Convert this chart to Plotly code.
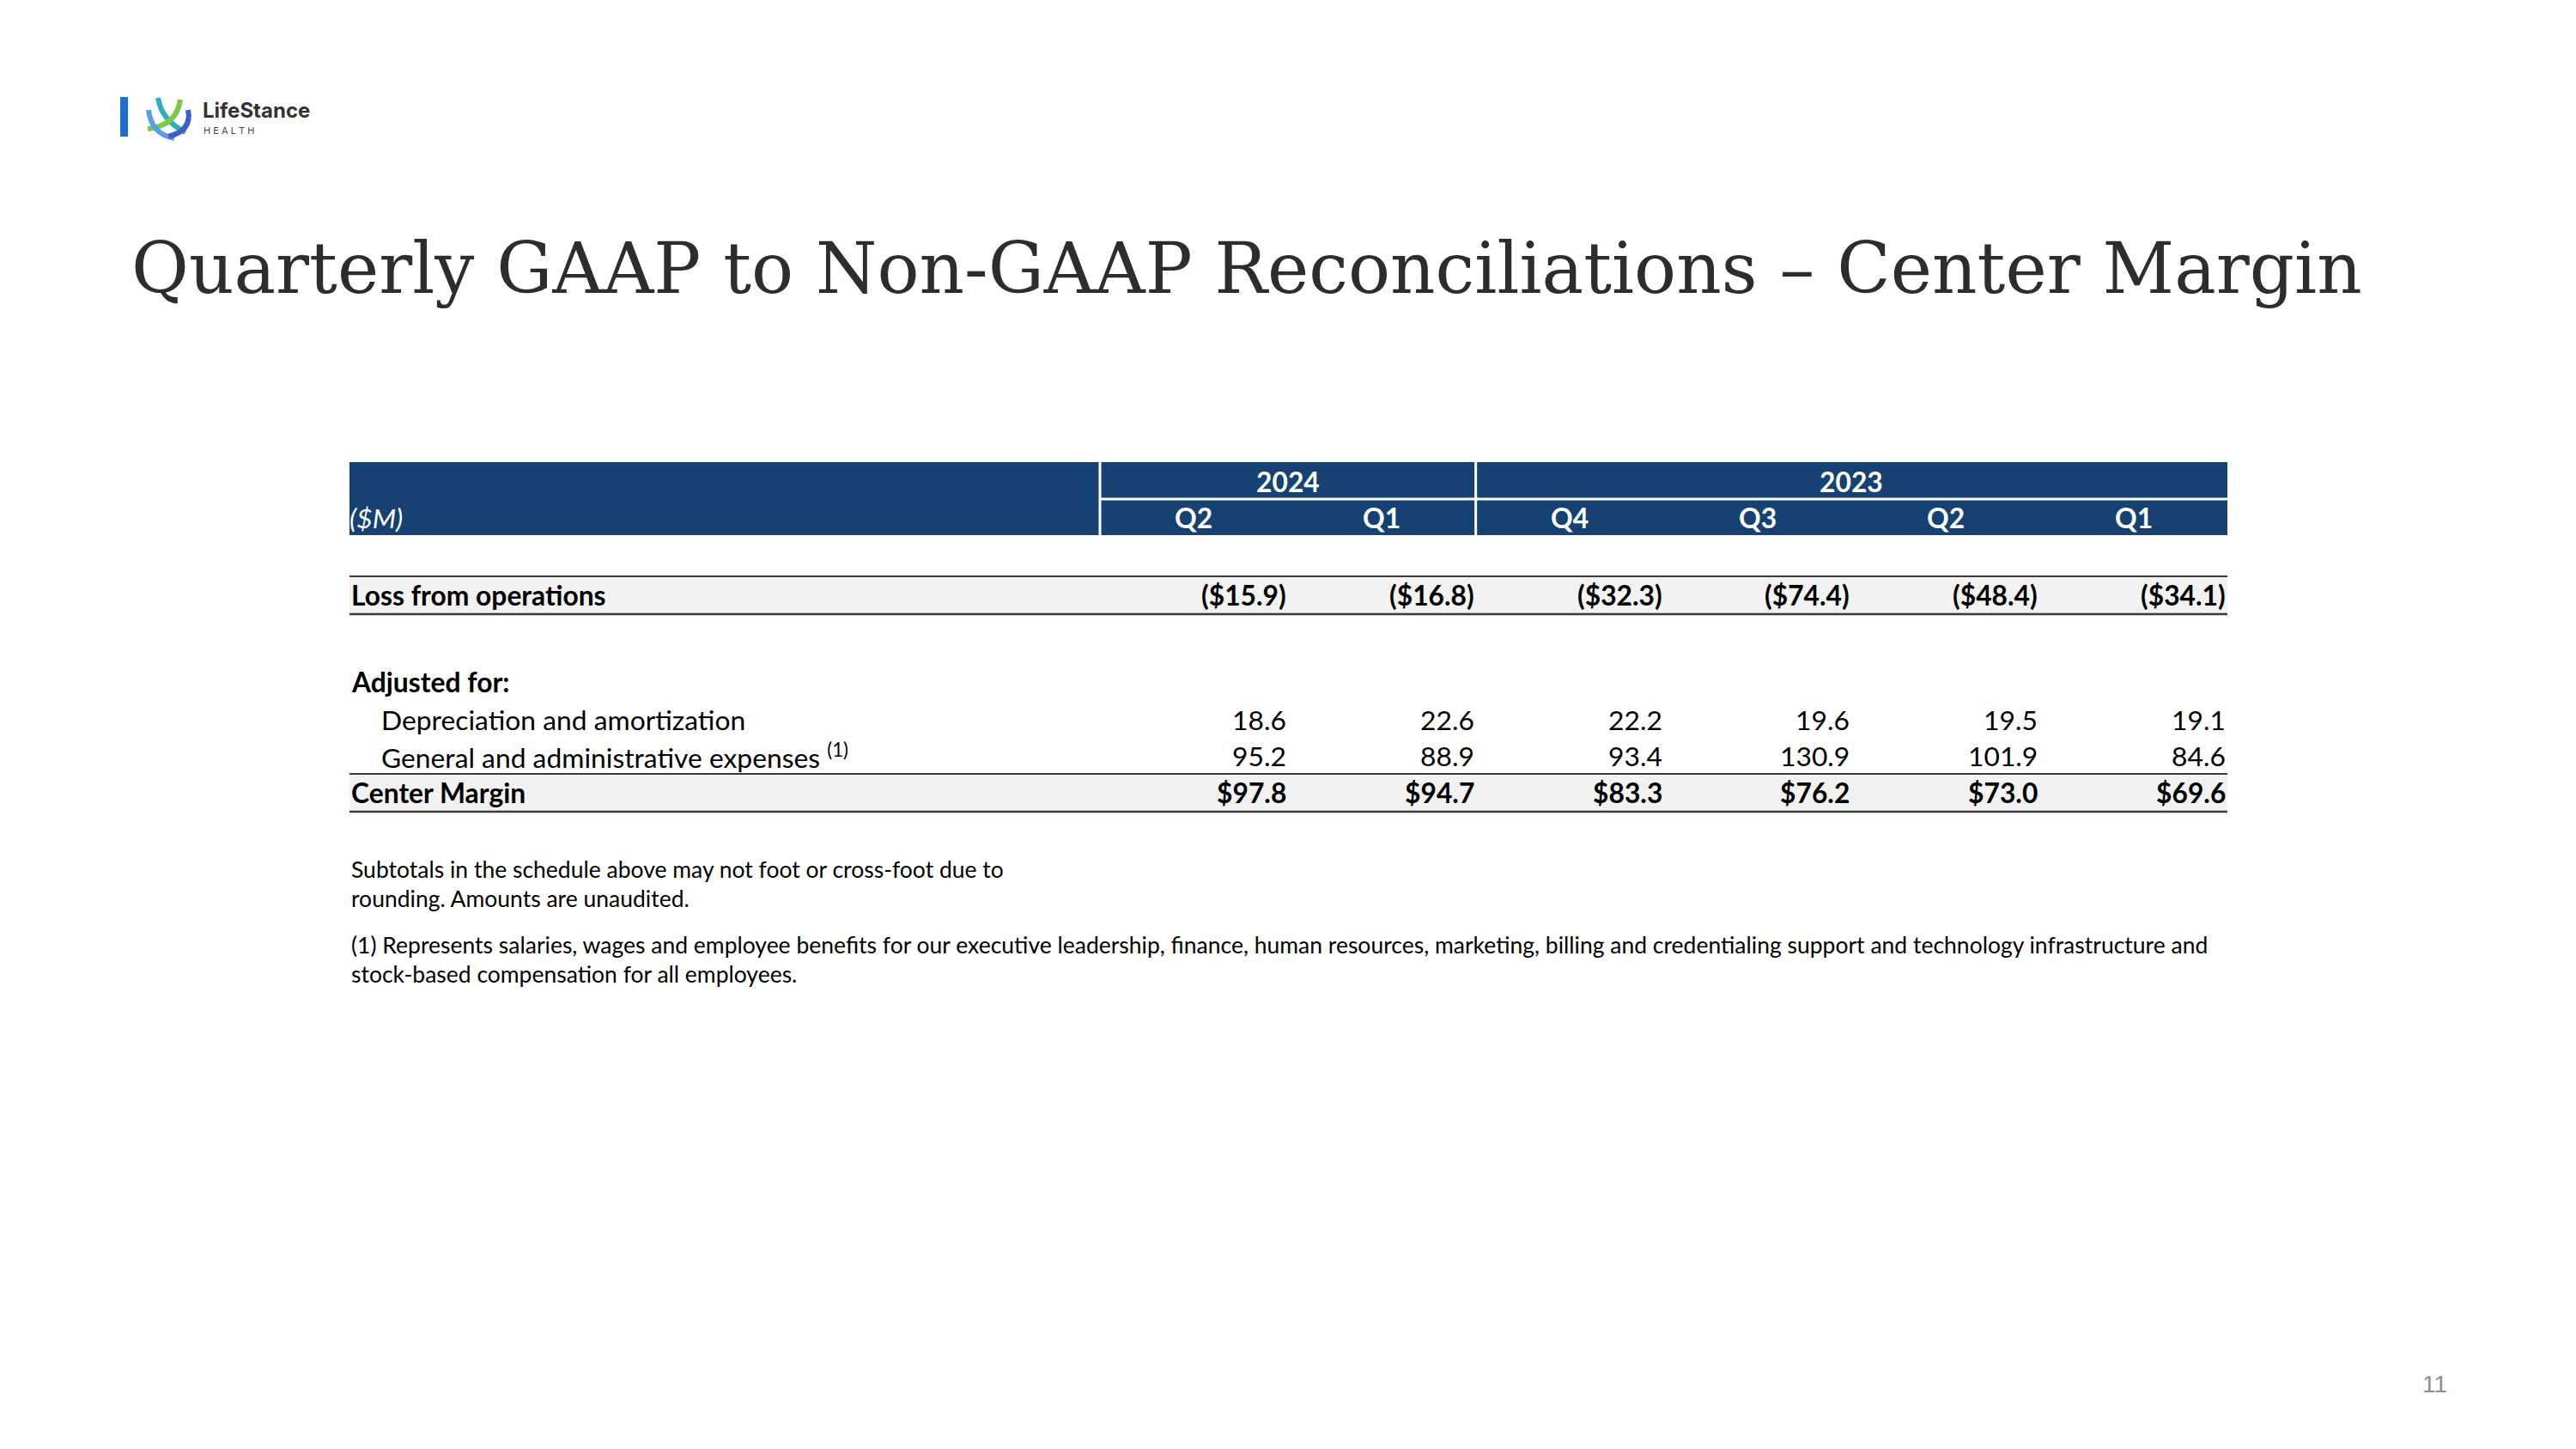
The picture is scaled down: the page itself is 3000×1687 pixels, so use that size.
import plotly.graph_objects as go

# ---------------- data ----------------
years = ["2024", "2023"]
year_spans = [2, 4]
quarters = ["Q2", "Q1", "Q4", "Q3", "Q2", "Q1"]
loss_from_operations = [-15.9, -16.8, -32.3, -74.4, -48.4, -34.1]
depreciation_amortization = [18.6, 22.6, 22.2, 19.6, 19.5, 19.1]
general_admin = [95.2, 88.9, 93.4, 130.9, 101.9, 84.6]
center_margin = [97.8, 94.7, 83.3, 76.2, 73.0, 69.6]

title = "Quarterly GAAP to Non-GAAP Reconciliations \u2013 Center Margin"
unit_label = "($M)"
footnote_1 = ["Subtotals in the schedule above may not foot or cross-foot due to",
              "rounding. Amounts are unaudited."]
footnote_2 = ["(1) Represents salaries, wages and employee benefits for our executive leadership, finance, human resources, marketing, billing and credentialing support and technology infrastructure and",
              "stock-based compensation for all employees."]
page_number = "11"

# ---------------- layout constants ----------------
W, H = 3000, 1687
BODY_MARGIN = 8  # default HTML body margin
NAVY = "#154273"
GREY_BG = "#f2f2f2"
LINE = "#3a3a3a"
FONT = "Lato"
FS = 31.8
FS_NOTE = 26.5

T_LEFT, T_RIGHT = 407, 2594
LABEL_RIGHT = 1281
NCOL = len(quarters)
COL_W = (T_RIGHT - LABEL_RIGHT) / NCOL
H_TOP, H_MID, H_BOT = 538, 581, 623


def col_left(i):
    return LABEL_RIGHT + i * COL_W


def col_right(i):
    return LABEL_RIGHT + (i + 1) * COL_W


def fmt(v, dollar=False):
    if v < 0:
        return "(${:.1f})".format(-v)
    return ("${:.1f}" if dollar else "{:.1f}").format(v)


shapes = []
ann = []


def text(x, y, s, size=FS, color="black", bold=False, italic=False,
         xanchor="left", family=FONT):
    if bold:
        s = "<b>" + s + "</b>"
    if italic:
        s = "<i>" + s + "</i>"
    ann.append(dict(x=x, y=y, xref="x", yref="y", text=s, showarrow=False,
                    xanchor=xanchor, yanchor="middle",
                    font=dict(size=size, color=color, family=family)))


def hline(y, x0, x1, color=LINE, width=2):
    shapes.append(dict(type="line", xref="x", yref="y", x0=x0, x1=x1, y0=y, y1=y,
                       line=dict(color=color, width=width)))


def rect(x0, y0, x1, y1, fill):
    shapes.append(dict(type="rect", xref="x", yref="y", x0=x0, x1=x1, y0=y0, y1=y1,
                       fillcolor=fill, line=dict(width=0), layer="below"))


# ---------------- header ----------------
rect(T_LEFT, H_TOP, T_RIGHT, H_BOT, NAVY)
shapes.append(dict(type="line", xref="x", yref="y", x0=LABEL_RIGHT, x1=LABEL_RIGHT,
                   y0=H_TOP, y1=H_BOT, line=dict(color="white", width=3)))
hline(H_MID, LABEL_RIGHT, T_RIGHT, color="white", width=3)
start = 0
for yr, span in zip(years, year_spans):
    x0, x1 = col_left(start), col_right(start + span - 1)
    text((x0 + x1) / 2, (H_TOP + H_MID) / 2 + 1, yr, color="white", bold=True,
         xanchor="center")
    if start > 0:
        shapes.append(dict(type="line", xref="x", yref="y", x0=x0, x1=x0,
                           y0=H_TOP, y1=H_BOT, line=dict(color="white", width=3)))
    start += span
for i, q in enumerate(quarters):
    text((col_left(i) + col_right(i)) / 2, (H_MID + H_BOT) / 2 + 1, q,
         color="white", bold=True, xanchor="center")
text(T_LEFT - 2, (H_MID + H_BOT) / 2 + 1, unit_label, color="white", italic=True)

# ---------------- body ----------------
r0, r1 = 671, 715
rect(T_LEFT, r0, T_RIGHT, r1, GREY_BG)
hline(r0, T_LEFT, T_RIGHT, width=2)
hline(r1, T_LEFT, T_RIGHT, width=2.5)
text(T_LEFT, (r0 + r1) / 2, "Loss from operations", bold=True)
for i, v in enumerate(loss_from_operations):
    text(col_right(i), (r0 + r1) / 2, fmt(v, True), bold=True, xanchor="right")

text(T_LEFT, 794, "Adjusted for:", bold=True)
text(442, 838, "Depreciation and amortization")
for i, v in enumerate(depreciation_amortization):
    text(col_right(i), 838, fmt(v), xanchor="right")
text(442, 880, "General and administrative expenses <sup>(1)</sup>")
for i, v in enumerate(general_admin):
    text(col_right(i), 880, fmt(v), xanchor="right")

c0, c1 = 901, 945
rect(T_LEFT, c0, T_RIGHT, c1, GREY_BG)
hline(c0, T_LEFT, T_RIGHT, width=2)
hline(c1, T_LEFT, T_RIGHT, width=2.5)
text(T_LEFT, (c0 + c1) / 2, "Center Margin", bold=True)
for i, v in enumerate(center_margin):
    text(col_right(i), (c0 + c1) / 2, fmt(v, True), bold=True, xanchor="right")

# ---------------- footnotes ----------------
for y, s in zip([1012, 1046], footnote_1):
    text(T_LEFT, y, s, size=FS_NOTE)
for y, s in zip([1100, 1134], footnote_2):
    text(T_LEFT, y, s, size=FS_NOTE)

# ---------------- title ----------------
text(151, 312, title, size=81.6, color="#2d2d2d", family="DejaVu Serif")

# ---------------- page number ----------------
text(2835, 1611, page_number, size=28, color="#8c8c8c", xanchor="center",
     family="Liberation Sans")

# ---------------- logo ----------------
rect(140, 113, 149, 159, "#1c6fd1")


def stroke(path, color, width=6):
    shapes.append(dict(type="path", xref="x", yref="y", path=path,
                       line=dict(color=color, width=width)))


stroke("M 184,114 Q 188,140 216,154", "#2bb0bd")
stroke("M 210,116 Q 206,146 172,150", "#7cc94a")
stroke("M 173,128 Q 176,156 203,161", "#5b9de8")
stroke("M 219,128 Q 224,152 196,159", "#3e5fc6")
text(234, 128, "<b>LifeStance</b>", size=24, color="#333333", family="Inter")
text(235, 152, "H E A L T H", size=11, color="#444444", family="Inter")

# ---------------- figure ----------------
fig = go.Figure()
fig.add_trace(go.Scatter(x=[BODY_MARGIN, W], y=[BODY_MARGIN, H], mode="markers",
                         marker=dict(opacity=0), hoverinfo="skip", showlegend=False))
fig.update_layout(
    width=W - BODY_MARGIN, height=H - BODY_MARGIN,
    margin=dict(l=0, r=0, t=0, b=0, pad=0),
    paper_bgcolor="white", plot_bgcolor="white",
    xaxis=dict(range=[BODY_MARGIN, W], visible=False, fixedrange=True),
    yaxis=dict(range=[H, BODY_MARGIN], visible=False, fixedrange=True),
    shapes=shapes, annotations=ann, showlegend=False,
)
fig.write_html("out.html")
